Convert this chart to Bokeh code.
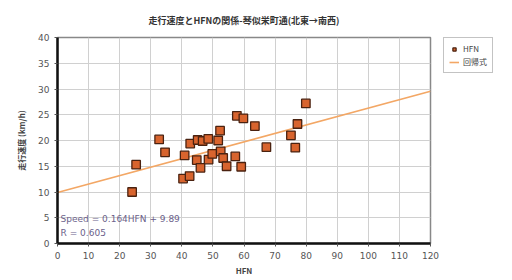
from bokeh.plotting import figure
from bokeh.layouts import row
from bokeh.models import Legend, LegendItem, Label, ColumnDataSource, FixedTicker
from bokeh.embed import file_html
from bokeh.resources import INLINE

# data
hfn = [24, 25.3, 32.7, 34.6, 40.9, 40.4, 42.5, 42.7, 45.1, 46.7, 44.8, 46.0,
       48.5, 48.6, 49.8, 51.7, 52.3, 52.5, 53.3, 54.4, 57.2, 59.1, 57.7, 59.8,
       63.5, 67.2, 75.1, 76.5, 77.2, 79.9]
speed = [10.0, 15.3, 20.2, 17.7, 17.1, 12.6, 13.1, 19.4, 20.1, 19.9, 16.2, 14.7,
         20.3, 16.3, 17.4, 20.0, 21.9, 17.9, 16.6, 15.0, 16.9, 14.9, 24.8, 24.3,
         22.8, 18.7, 21.0, 18.6, 23.2, 27.2]
slope = 0.164
intercept = 9.89
x_range_vals = [0, 120]
y_range_vals = [0, 40]
x_ticks = list(range(0, 121, 10))
y_ticks = list(range(0, 41, 5))
title_text = "走行速度とHFNの関係-琴似栄町通(北東→南西)"
eq_text = "Speed = 0.164HFN + 9.89"
r_text = "R = 0.605"
legend_labels = ["HFN", "回帰式"]

JP = "Noto Sans CJK JP"
H = 278

p = figure(width=443, height=H, output_backend="svg", toolbar_location=None,
           x_range=(x_range_vals[0], x_range_vals[1]),
           y_range=(y_range_vals[0], y_range_vals[1]),
           min_border_left=57, min_border_right=13, min_border_top=35,
           min_border_bottom=35)
p.title.text = title_text
p.title.text_font = JP
p.title.text_font_size = "9px"
p.title.text_font_style = "bold"
p.title.text_color = "#333333"
p.title.align = "center"
p.title.offset = 0
p.title.standoff = 21

p.outline_line_color = "#888888"
p.outline_line_width = 1.5

for ax, ticks in ((p.xaxis, x_ticks), (p.yaxis, y_ticks)):
    ax.ticker = FixedTicker(ticks=ticks)
    ax.axis_line_color = "#111111"
    ax.axis_line_width = 2.5
    ax.major_tick_line_color = "#555555"
    ax.major_tick_in = 0
    ax.major_tick_out = 3
    ax.minor_tick_line_color = None
    ax.major_label_text_font_size = "9px"
    ax.major_label_text_color = "#555555"
    ax.major_label_text_font = "DejaVu Sans"
    ax.axis_label_text_font = JP
    ax.axis_label_text_font_size = "8px"
    ax.axis_label_text_font_style = "bold"
    ax.axis_label_text_color = "#444444"
    ax.axis_label_standoff = 3

p.xaxis.axis_label = "HFN"
p.yaxis.axis_label = "走行速度 (km/h)"
p.yaxis.axis_label_standoff = 8

p.xgrid.ticker = FixedTicker(ticks=x_ticks)
p.ygrid.ticker = FixedTicker(ticks=y_ticks)
p.grid.grid_line_color = "#d0d0d0"
p.grid.grid_line_width = 1

line_x = x_range_vals
line_y = [intercept + slope * v for v in line_x]
line_style = dict(line_color="#f3a765", line_width=1.6)
marker_style = dict(marker="square", size=8.5, fill_color="#d8642e",
                    line_color="#4a2210", line_width=1.3)

p.line(line_x, line_y, **line_style)
src = ColumnDataSource(dict(x=hfn, y=speed))
p.scatter("x", "y", source=src, **marker_style)

p.add_layout(Label(x=1, y=4.7, text=eq_text, text_font_size="9px",
                   text_color="#6b5f8a", text_font="DejaVu Sans",
                   text_baseline="middle"))
p.add_layout(Label(x=1, y=2.0, text=r_text, text_font_size="9px",
                   text_color="#6b5f8a", text_font="DejaVu Sans",
                   text_baseline="middle"))

# separate legend panel (renderers lie outside its 0..1 ranges, so only the legend shows)
lg = figure(width=66, height=H, output_backend="svg", toolbar_location=None,
            title=None,
            x_range=(0, 1), y_range=(0, 1), x_axis_type=None, y_axis_type=None,
            min_border_left=0, min_border_right=0, min_border_top=37,
            min_border_bottom=0)
lg.outline_line_color = None
lg.grid.visible = False
lr2 = lg.line(line_x, line_y, **line_style)
sr2 = lg.scatter("x", "y", source=src, **dict(marker_style, size=7))

legend = Legend(items=[LegendItem(label=legend_labels[0], renderers=[sr2]),
                       LegendItem(label=legend_labels[1], renderers=[lr2])],
                location="top_left", label_text_font=JP,
                label_text_font_size="8px", label_text_color="#444444",
                border_line_color="#888888", border_line_width=1.5,
                glyph_width=10, glyph_height=8, label_height=8,
                padding=5, spacing=2, margin=0, label_standoff=4,
                background_fill_color="white")
lg.add_layout(legend, "center")

layout = row(p, lg)
open("out.html", "w").write(file_html(layout, INLINE))
